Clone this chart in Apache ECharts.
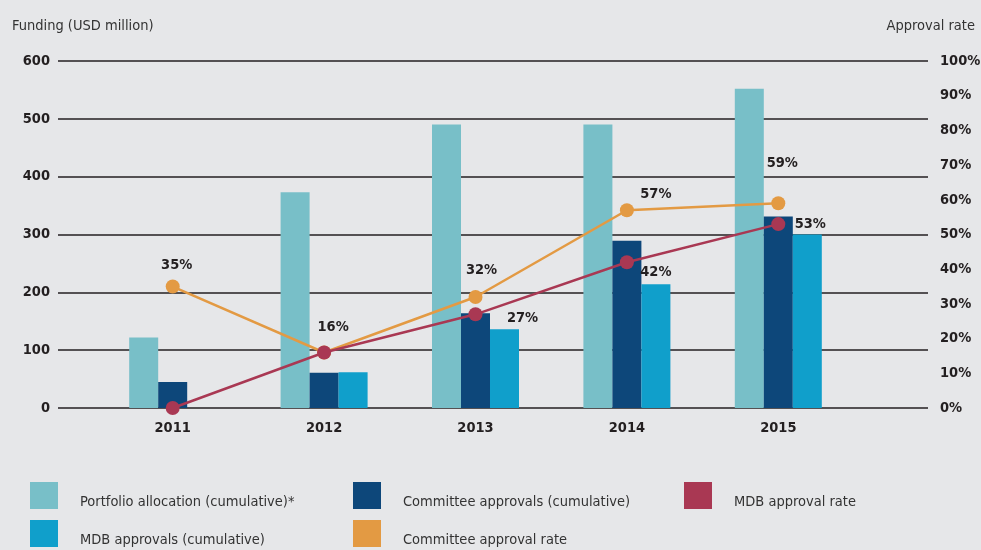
<!DOCTYPE html>
<html>
<head>
<meta charset="utf-8">
<script src="https://cdn.jsdelivr.net/npm/echarts@6/dist/echarts.min.js"></script>
<style>
  html, body { margin: 0; padding: 0; background: #e6e7e9; }
  #chart { width: 981px; height: 550px; }
</style>
</head>
<body>
<div id="chart"></div>
<script>
var years = ['2011', '2012', '2013', '2014', '2015'];
var portfolioAllocation = [122, 373, 490, 490, 552];
var committeeApprovals = [45, 61, 164, 289, 331];
var mdbApprovals = [null, 62, 136, 214, 300];
var committeeRate = [35, 16, 32, 57, 59];
var mdbRate = [0, 16, 27, 42, 53];
var fundingTicks = [0, 100, 200, 300, 400, 500, 600];

// label offsets for the rate points (px, relative to the dot)
var committeeLabelOffsets = [[4, -21], [9, -25], [6, -27], [29, -16], [4, -40]];
var mdbLabelOffsets = [null, null, [47, 4], [29, 10], [32, 0]];

var font = "'DejaVu Sans Condensed', 'DejaVu Sans', sans-serif";
var chart = echarts.init(document.getElementById('chart'));

function rateData(values, offsets) {
  return values.map(function (v, i) {
    var o = offsets[i];
    return {
      value: v,
      label: o ? { show: true, position: 'inside', offset: o } : { show: false }
    };
  });
}

function legendAt(name, left, top) {
  return {
    data: [name], left: left, top: top, icon: 'rect', padding: 0,
    itemWidth: 28, itemHeight: 27, selectedMode: false,
    formatter: '{t|{name}}',
    textStyle: {
      padding: [0, 0, 0, 17],
      rich: { t: { fontFamily: font, fontSize: 14.5, color: '#333', padding: [14, 0, 0, 0] } }
    }
  };
}

var option = {
  backgroundColor: '#e6e7e9',
  animation: false,
  grid: [
    { left: 58, right: 53, top: 61, bottom: 142, outerBoundsMode: 'none' },
    { left: 97, right: 127, top: 61, bottom: 142, outerBoundsMode: 'none' }
  ],
  graphic: [
    { type: 'text', left: 12, top: 19, style: { text: 'Funding (USD million)', fontFamily: font, fontSize: 14.5, fill: '#333' } },
    { type: 'text', right: 6, top: 19, style: { text: 'Approval rate', fontFamily: font, fontSize: 14.5, fill: '#333' } }
  ],
  legend: [
    legendAt('Portfolio allocation (cumulative)*', 30, 482),
    legendAt('Committee approvals (cumulative)', 353, 482),
    legendAt('MDB approval rate', 684, 482),
    legendAt('MDB approvals (cumulative)', 30, 520),
    legendAt('Committee approval rate', 353, 520)
  ],
  xAxis: [
    { type: 'value', gridIndex: 0, min: 0, max: 1, show: false },
    {
      type: 'category', gridIndex: 1, data: years,
      axisLine: { show: false }, axisTick: { show: false },
      axisLabel: { margin: 13, fontFamily: font, fontWeight: 'bold', fontSize: 14.5, color: '#231f20' }
    }
  ],
  yAxis: [
    {
      type: 'value', gridIndex: 0, min: fundingTicks[0], max: fundingTicks[fundingTicks.length - 1], interval: 100,
      axisLine: { show: false }, axisTick: { show: false },
      splitLine: { lineStyle: { color: '#231f20', width: 1.5 } },
      axisLabel: { margin: 8, fontFamily: font, fontWeight: 'bold', fontSize: 14.5, color: '#231f20' }
    },
    { type: 'value', gridIndex: 1, min: 0, max: 600, show: false },
    { type: 'value', gridIndex: 1, min: 0, max: 100, show: false },
    {
      type: 'value', gridIndex: 0, position: 'right', min: 0, max: 100, interval: 10,
      axisLine: { show: false }, axisTick: { show: false }, splitLine: { show: false },
      axisLabel: {
        margin: 12, formatter: '{value}%', padding: [0, 0, 6, 0],
        fontFamily: font, fontWeight: 'bold', fontSize: 14.5, color: '#231f20'
      }
    }
  ],
  series: [
    {
      name: 'Portfolio allocation (cumulative)*', type: 'bar', xAxisIndex: 1, yAxisIndex: 1,
      data: portfolioAllocation, barWidth: 29, barGap: '0%',
      itemStyle: { color: '#78bfc8' }
    },
    {
      name: 'Committee approvals (cumulative)', type: 'bar', xAxisIndex: 1, yAxisIndex: 1,
      data: committeeApprovals, barWidth: 29, barGap: '0%',
      itemStyle: { color: '#0d477a' }
    },
    {
      name: 'MDB approvals (cumulative)', type: 'bar', xAxisIndex: 1, yAxisIndex: 1,
      data: mdbApprovals, barWidth: 29, barGap: '0%',
      itemStyle: { color: '#109fcb' }
    },
    {
      name: 'Committee approval rate', type: 'line', xAxisIndex: 1, yAxisIndex: 2,
      data: rateData(committeeRate, committeeLabelOffsets),
      symbol: 'circle', symbolSize: 14, z: 3,
      lineStyle: { color: '#e39a43', width: 2.5 }, itemStyle: { color: '#e39a43' },
      label: { formatter: '{c}%', fontFamily: font, fontWeight: 'bold', fontSize: 14.5, color: '#231f20' }
    },
    {
      name: 'MDB approval rate', type: 'line', xAxisIndex: 1, yAxisIndex: 2,
      data: rateData(mdbRate, mdbLabelOffsets),
      symbol: 'circle', symbolSize: 14, z: 4,
      lineStyle: { color: '#a93853', width: 2.5 }, itemStyle: { color: '#a93853' },
      label: { formatter: '{c}%', fontFamily: font, fontWeight: 'bold', fontSize: 14.5, color: '#231f20' }
    }
  ]
};

chart.setOption(option);
</script>
</body>
</html>
